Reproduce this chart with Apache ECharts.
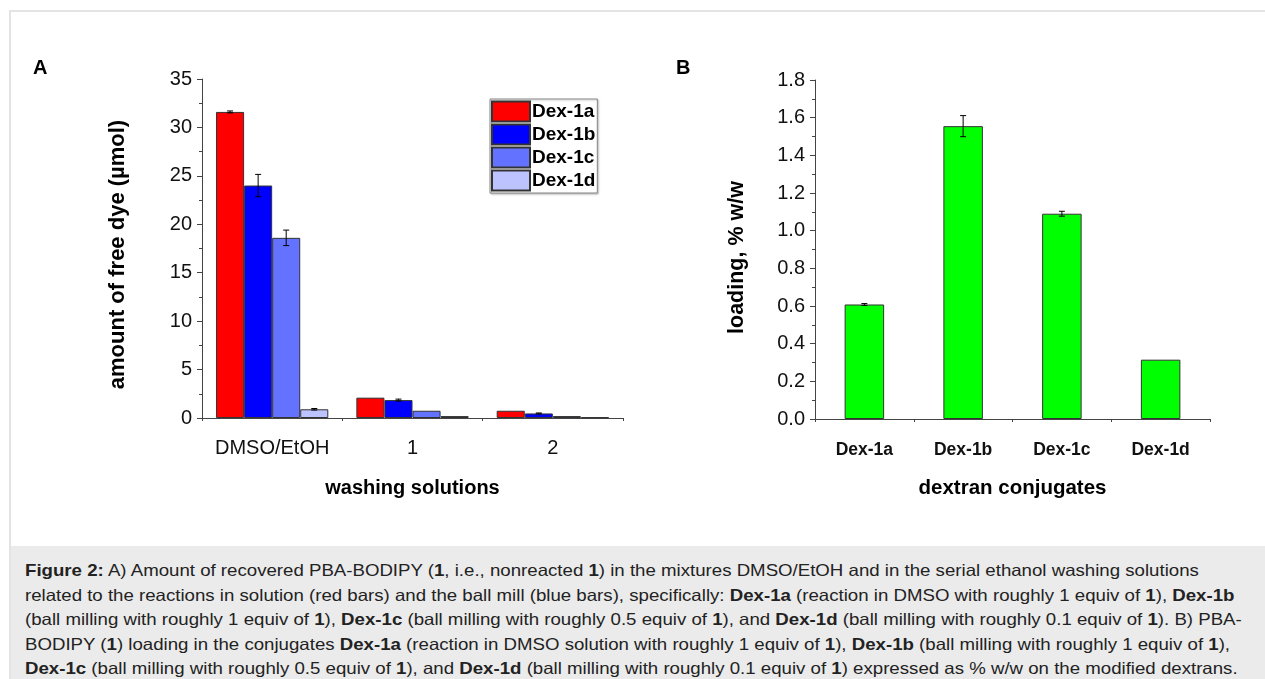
<!DOCTYPE html>
<html>
<head>
    <meta charset="UTF-8">
    <title>Figure 2</title>
    <script src="https://cdn.jsdelivr.net/npm/echarts@6/dist/echarts.min.js"></script>
    <style>
        body { margin: 0; background: #fff; font-family: "Liberation Sans", Arial, sans-serif; }
        #frame {
            position: absolute; left: 9px; top: 10px; width: 1256px; height: 669px;
            border-left: 2px solid #e4e4e4; border-top: 2px solid #e4e4e4;
        }
        #chart { position: absolute; left: 0; top: 0; width: 1265px; height: 546px; }
        #caption {
            position: absolute; left: 11px; top: 546px; width: 1254px; height: 133px;
            background: #ebebeb; overflow: hidden;
        }
        #caption .text {
            position: absolute; left: 14px; top: 12px; color: #222;
            font-size: 16.5px; line-height: 24.6px; white-space: nowrap;
            transform: scaleX(1.13); transform-origin: 0 0;
        }
    </style>
</head>
<body>
    <div id="frame"></div>
    <div id="chart"></div>
    <div id="caption"><div class="text">
        <b>Figure 2:</b> A) Amount of recovered PBA-BODIPY (<b>1</b>, i.e., nonreacted <b>1</b>) in the mixtures DMSO/EtOH and in the serial ethanol washing solutions<br>
        related to the reactions in solution (red bars) and the ball mill (blue bars), specifically: <b>Dex-1a</b> (reaction in DMSO with roughly 1 equiv of <b>1</b>), <b>Dex-1b</b><br>
        (ball milling with roughly 1 equiv of <b>1</b>), <b>Dex-1c</b> (ball milling with roughly 0.5 equiv of <b>1</b>), and <b>Dex-1d</b> (ball milling with roughly 0.1 equiv of <b>1</b>). B) PBA-<br>
        BODIPY (<b>1</b>) loading in the conjugates <b>Dex-1a</b> (reaction in DMSO solution with roughly 1 equiv of <b>1</b>), <b>Dex-1b</b> (ball milling with roughly 1 equiv of <b>1</b>),<br>
        <b>Dex-1c</b> (ball milling with roughly 0.5 equiv of <b>1</b>), and <b>Dex-1d</b> (ball milling with roughly 0.1 equiv of <b>1</b>) expressed as % w/w on the modified dextrans.
    </div></div>

    <script>
        // 패널 A 데이터
        const washCategories = ['DMSO/EtOH', '1', '2'];
        const seriesNames = ['Dex-1a', 'Dex-1b', 'Dex-1c', 'Dex-1d'];
        const seriesColors = ['#ff0000', '#0000ff', '#6373ff', '#bcc3ff'];
        const dex1a = [31.6, 2.1, 0.75];
        const dex1b = [24.0, 1.85, 0.47];
        const dex1c = [18.6, 0.75, 0.2];
        const dex1d = [0.9, 0.2, 0.07];
        const errA = [
            [0.1, 0, 0],
            [1.15, 0.1, 0.05],
            [0.8, 0, 0],
            [0.08, 0, 0]
        ];

        // 패널 B 데이터
        const conjCategories = ['Dex-1a', 'Dex-1b', 'Dex-1c', 'Dex-1d'];
        const loading = [0.608, 1.555, 1.09, 0.315];
        const errB = [0.005, 0.056, 0.013, 0];

        const valuesA = [dex1a, dex1b, dex1c, dex1d];

        const chart = echarts.init(document.getElementById('chart'));

        const axisColor = '#444';
        const labelColor = '#111';
        const font = '"Liberation Sans", Arial, sans-serif';

        // 에러바 그리기 (그룹 내 막대 위치 보정)
        function errorBar(count, index, gapRatio) {
            return function (params, api) {
                const err = api.value(2);
                if (!err) return null;
                const cat = api.value(0);
                const val = api.value(1);
                const band = api.size([1, 0])[0];
                const barW = band * (1 - gapRatio) / count;
                const shift = (index - (count - 1) / 2) * barW;
                const top = api.coord([cat, val + err]);
                const bot = api.coord([cat, val - err]);
                const x = top[0] + shift;
                const cap = 3;
                const style = { stroke: '#000', lineWidth: 1 };
                return {
                    type: 'group',
                    children: [
                        { type: 'line', shape: { x1: x, y1: top[1], x2: x, y2: bot[1] }, style: style },
                        { type: 'line', shape: { x1: x - cap, y1: top[1], x2: x + cap, y2: top[1] }, style: style },
                        { type: 'line', shape: { x1: x - cap, y1: bot[1], x2: x + cap, y2: bot[1] }, style: style }
                    ]
                };
            };
        }

        const series = [];
        valuesA.forEach((vals, i) => {
            series.push({
                name: seriesNames[i],
                type: 'bar',
                xAxisIndex: 0, yAxisIndex: 0,
                data: vals,
                barGap: '0%',
                barCategoryGap: '20%',
                itemStyle: { color: seriesColors[i], borderColor: '#333', borderWidth: 1 }
            });
        });
        valuesA.forEach((vals, i) => {
            series.push({
                type: 'custom',
                xAxisIndex: 0, yAxisIndex: 0,
                renderItem: errorBar(4, i, 0.2),
                data: vals.map((v, k) => [k, v, errA[i][k]]),
                encode: { x: 0, y: 1 },
                z: 10
            });
        });
        series.push({
            type: 'bar',
            xAxisIndex: 2, yAxisIndex: 1,
            data: loading,
            barCategoryGap: '60%',
            itemStyle: { color: '#00ff00', borderColor: '#333', borderWidth: 1 }
        });
        series.push({
            type: 'custom',
            xAxisIndex: 2, yAxisIndex: 1,
            renderItem: errorBar(1, 0, 0.6),
            data: loading.map((v, k) => [k, v, errB[k]]),
            encode: { x: 0, y: 1 },
            z: 10
        });

        const option = {
            animation: false,
            textStyle: { fontFamily: font },
            graphic: [
                { type: 'text', left: 33, top: 58, style: { text: 'A', font: 'bold 20px ' + font, fill: '#000' } },
                { type: 'text', left: 676, top: 58, style: { text: 'B', font: 'bold 20px ' + font, fill: '#000' } }
            ],
            legend: {
                data: seriesNames,
                orient: 'vertical',
                left: 490, top: 99,
                itemWidth: 38, itemHeight: 20, itemGap: 0,
                padding: [1, 2, 1, 1],
                borderColor: '#888', borderWidth: 1,
                shadowColor: 'rgba(0,0,0,0.25)', shadowBlur: 2, shadowOffsetX: 1, shadowOffsetY: 1,
                backgroundColor: '#fff',
                icon: 'rect',
                textStyle: { fontSize: 19, fontWeight: 'bold', color: '#000', lineHeight: 23, padding: [0, 0, 0, -3] }
            },
            grid: [
                { left: 202, top: 79, width: 421, height: 339 },
                { left: 815, top: 80, width: 395, height: 339 }
            ],
            xAxis: [
                {
                    type: 'category', gridIndex: 0, data: washCategories, position: 'bottom',
                    axisLine: { lineStyle: { color: axisColor } },
                    axisTick: { alignWithLabel: true, length: 6, lineStyle: { color: axisColor } },
                    axisLabel: { fontSize: 20, color: labelColor, margin: 20, interval: 0 },
                    name: 'washing solutions', nameLocation: 'middle', nameGap: 60,
                    nameTextStyle: { fontSize: 20, fontWeight: 'bold', color: '#000' }
                },
                {
                    type: 'value', gridIndex: 0, min: 0, max: 3, interval: 1, position: 'bottom',
                    axisLine: { show: false }, splitLine: { show: false },
                    axisLabel: { show: false },
                    axisTick: { length: 3, lineStyle: { color: axisColor } }
                },
                {
                    type: 'category', gridIndex: 1, data: conjCategories, position: 'bottom',
                    axisLine: { lineStyle: { color: axisColor } },
                    axisTick: { alignWithLabel: true, length: 6, lineStyle: { color: axisColor } },
                    axisLabel: { fontSize: 17.5, fontWeight: 'bold', color: labelColor, margin: 22, interval: 0 },
                    name: 'dextran conjugates', nameLocation: 'middle', nameGap: 59,
                    nameTextStyle: { fontSize: 20.5, fontWeight: 'bold', color: '#000' }
                },
                {
                    type: 'value', gridIndex: 1, min: 0, max: 4, interval: 1, position: 'bottom',
                    axisLine: { show: false }, splitLine: { show: false },
                    axisLabel: { show: false },
                    axisTick: { length: 3, lineStyle: { color: axisColor } }
                }
            ],
            yAxis: [
                {
                    type: 'value', gridIndex: 0, min: 0, max: 35, interval: 5,
                    axisLine: { show: true, lineStyle: { color: axisColor } },
                    axisTick: { show: true, length: 5, lineStyle: { color: axisColor } },
                    minorTick: { show: true, splitNumber: 2, length: 3, lineStyle: { color: axisColor } },
                    splitLine: { show: false },
                    axisLabel: { fontSize: 20, color: labelColor, margin: 10 },
                    name: 'amount of free dye (µmol)', nameLocation: 'middle', nameGap: 73,
                    nameTextStyle: { fontSize: 22, fontWeight: 'bold', color: '#000', padding: [0, 12, 0, 0] }
                },
                {
                    type: 'value', gridIndex: 1, min: 0, max: 1.8, interval: 0.2,
                    axisLine: { show: true, lineStyle: { color: axisColor } },
                    axisTick: { show: true, length: 5, lineStyle: { color: axisColor } },
                    minorTick: { show: true, splitNumber: 2, length: 3, lineStyle: { color: axisColor } },
                    splitLine: { show: false },
                    axisLabel: { fontSize: 20, color: labelColor, margin: 10, formatter: v => v.toFixed(1) },
                    name: 'loading, % w/w', nameLocation: 'middle', nameGap: 67,
                    nameTextStyle: { fontSize: 21.5, fontWeight: 'bold', color: '#000', padding: [0, 16, 0, 0] }
                }
            ],
            series: series
        };

        chart.setOption(option);
        window.addEventListener('resize', () => chart.resize());
    </script>
</body>
</html>
